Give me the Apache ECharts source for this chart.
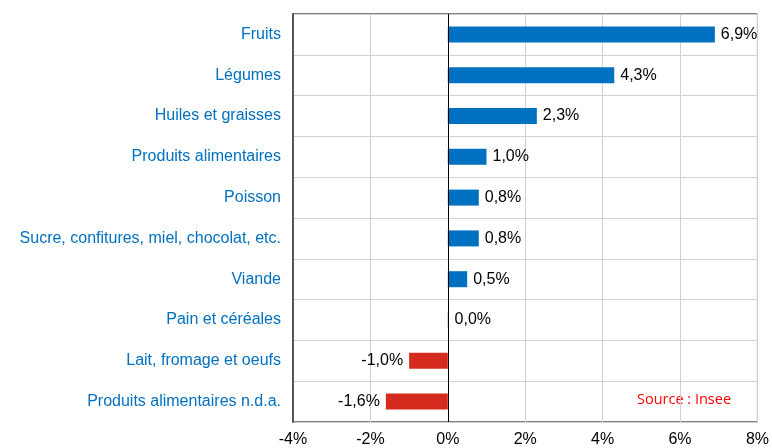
<!DOCTYPE html>
<html lang="fr" style="height: 100%">
<head>
  <meta charset="utf-8">
  <title>Prix alimentaires</title>
</head>
<body style="height: 100%; margin: 0">
  <div id="container" style="width: 772px; height: 448px"></div>
  <script type="text/javascript" src="https://fastly.jsdelivr.net/npm/echarts@6.0.0/dist/echarts.min.js"></script>
  <script type="text/javascript">
    const categories = [
      'Fruits',
      'Légumes',
      'Huiles et graisses',
      'Produits alimentaires',
      'Poisson',
      'Sucre, confitures, miel, chocolat, etc.',
      'Viande',
      'Pain et céréales',
      'Lait, fromage et oeufs',
      'Produits alimentaires n.d.a.'
    ];
    const values = [6.9, 4.3, 2.3, 1.0, 0.8, 0.8, 0.5, 0.02, -1.0, -1.6];
    const xTicks = [-4, -2, 0, 2, 4, 6, 8];

    var dom = document.getElementById('container');
    var myChart = echarts.init(dom, null, { renderer: 'canvas' });

    const font = 'Liberation Sans';
    const fmt = v => v.toFixed(1).replace('.', ',') + '%';

    var option = {
      animation: false,
      grid: {
        left: 293,
        right: 13,
        top: 14,
        bottom: 24,
        show: true,
        borderColor: '#000',
        borderWidth: 1
      },
      xAxis: {
        type: 'value',
        min: xTicks[0],
        max: xTicks[xTicks.length - 1],
        interval: 2,
        axisLine: { show: false },
        axisTick: { show: false },
        axisLabel: {
          formatter: v => v + '%',
          color: '#000',
          fontSize: 16,
          fontFamily: font,
          margin: 10
        },
        splitLine: { lineStyle: { color: '#d0d0d0', width: 1 } }
      },
      yAxis: {
        type: 'category',
        inverse: true,
        data: categories,
        axisLine: { show: true, onZero: false, lineStyle: { color: '#555', width: 2 } },
        axisTick: { show: false },
        axisLabel: { color: '#0070C0', fontSize: 16, fontFamily: font, margin: 12 },
        splitLine: { show: true, lineStyle: { color: '#d0d0d0', width: 1 } }
      },
      series: [
        {
          type: 'bar',
          barWidth: 16,
          data: values.map(v => ({
            value: v,
            itemStyle: { color: v < 0 ? '#D52B1E' : '#0070C0' },
            label: {
              show: true,
              position: v < 0 ? 'left' : 'right',
              distance: 6,
              formatter: () => fmt(v),
              color: '#000',
              fontSize: 16,
              fontFamily: font
            }
          })),
          markLine: {
            silent: true,
            symbol: 'none',
            label: { show: false },
            lineStyle: { color: '#000', width: 1, type: 'solid' },
            data: [{ xAxis: 0 }]
          }
        }
      ],
      graphic: [
        {
          type: 'text',
          left: 637,
          top: 392,
          style: {
            text: 'Source : Insee',
            fill: '#FF0000',
            fontSize: 14.5,
            fontFamily: 'Open Sans'
          }
        }
      ]
    };

    myChart.setOption(option);
    window.addEventListener('resize', myChart.resize);
  </script>
</body>
</html>
